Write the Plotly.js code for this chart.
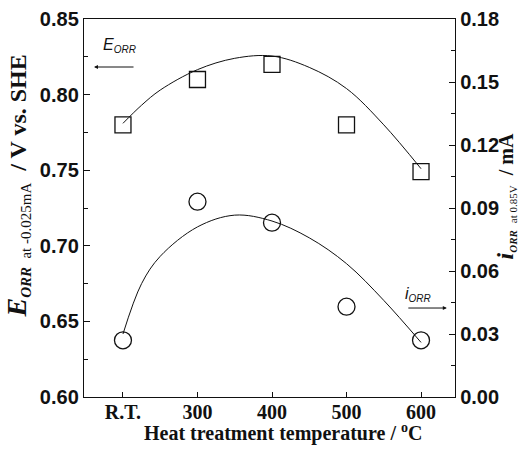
<!DOCTYPE html>
<html>
<head>
<meta charset="utf-8">
<script src="https://cdn.plot.ly/plotly-3.0.1.min.js"></script>
<style>html,body{margin:0;padding:0;background:#fff}#chart{width:520px;height:455px}</style>
</head>
<body>
<div id="chart"></div>
<script>
// ---- data ----
const tempLabels = ['R.T.', '300', '400', '500', '600'];
const tempPos = [200, 300, 400, 500, 600];
const eorr = [0.780, 0.810, 0.820, 0.780, 0.749];          // V vs. SHE (left axis)
const iorr = [0.027, 0.093, 0.083, 0.043, 0.027];          // mA (right axis)
// fitted trend curves as drawn in the reference
const fitPos = [200, 225, 250, 300, 350, 400, 450, 500, 550, 600];
const eorrFit = [0.781, 0.793, 0.803, 0.8165, 0.824, 0.8255, 0.818, 0.804, 0.780, 0.751];
const iorrFit = [0.030, 0.054, 0.067, 0.081, 0.0866, 0.0838, 0.0758, 0.0635, 0.046, 0.026];

const sans = 'Liberation Sans, Arial, sans-serif';
const serif = 'Liberation Serif, Times New Roman, serif';
const ink = '#111';

const traces = [
  {x: fitPos, y: eorrFit, type: 'scatter', mode: 'lines', yaxis: 'y',
   line: {color: ink, width: 1, shape: 'spline', smoothing: 1}, hoverinfo: 'skip'},
  {x: fitPos, y: iorrFit, type: 'scatter', mode: 'lines', yaxis: 'y2',
   line: {color: ink, width: 1, shape: 'spline', smoothing: 1}, hoverinfo: 'skip'},
  {x: tempPos, y: eorr, type: 'scatter', mode: 'markers', yaxis: 'y',
   marker: {symbol: 'square-open', size: 16, color: ink, line: {width: 1.3, color: ink}}},
  {x: tempPos, y: iorr, type: 'scatter', mode: 'markers', yaxis: 'y2',
   marker: {symbol: 'circle-open', size: 17, color: ink, line: {width: 1.3, color: ink}}}
];

const layout = {
  width: 520, height: 455,
  margin: {l: 84, r: 65, t: 19, b: 58, pad: 0},
  paper_bgcolor: '#fff', plot_bgcolor: '#fff',
  showlegend: false,
  xaxis: {
    range: [147.7, 645.6], tickmode: 'array', tickvals: tempPos, ticktext: tempLabels,
    ticks: 'inside', ticklen: 5, tickwidth: 1, tickcolor: ink,
    showline: true, linecolor: ink, linewidth: 1.2, mirror: true,
    showgrid: false, zeroline: false, ticklabelstandoff: -3,
    tickfont: {family: serif, size: 20, color: ink, weight: 'bold'}
  },
  yaxis: {
    range: [0.60, 0.85], dtick: 0.05, tickformat: '.2f',
    ticks: 'inside', ticklen: 6, tickwidth: 1, tickcolor: ink,
    minor: {dtick: 0.025, ticks: 'inside', ticklen: 4, tickcolor: ink, showgrid: false},
    showline: true, linecolor: ink, linewidth: 1.2,
    showgrid: false, zeroline: false,
    tickfont: {family: sans, size: 20, color: ink, weight: 'bold'}
  },
  yaxis2: {
    overlaying: 'y', side: 'right',
    range: [0, 0.18], dtick: 0.03, tickformat: '.2f',
    ticks: 'inside', ticklen: 6, tickwidth: 1, tickcolor: ink,
    minor: {dtick: 0.015, ticks: 'inside', ticklen: 4, tickcolor: ink, showgrid: false},
    showline: true, linecolor: ink, linewidth: 1.2,
    showgrid: false, zeroline: false,
    tickfont: {family: sans, size: 20, color: ink, weight: 'bold'}
  },
  annotations: [
    {xref: 'paper', yref: 'paper', x: 0.5377, y: -0.093, xanchor: 'center', yanchor: 'middle',
     showarrow: false, text: 'Heat treatment temperature / <sup>o</sup>C',
     font: {family: serif, size: 20, color: ink, weight: 'bold'}},
    {xref: 'paper', yref: 'paper', x: -0.178, y: 0.5595, xanchor: 'center', yanchor: 'middle',
     textangle: -90, showarrow: false,
     text: '<span style="font-size:28px"><i>E</i></span><sub><span style="font-size:15px"><i>ORR</i></span>  <span style="font-size:15px;font-weight:normal">at -0.025mA</span></sub>  / V vs. SHE',
     font: {family: serif, size: 24, color: ink, weight: 'bold'}},
    {xref: 'paper', yref: 'paper', x: 1.137, y: 0.53, xanchor: 'center', yanchor: 'middle',
     textangle: -90, showarrow: false,
     text: '<span style="font-size:24px"><i>i</i></span><sub><span style="font-size:11px"><i>ORR</i></span>  <span style="font-size:11px;font-weight:normal">at 0.85V</span></sub>  / mA',
     font: {family: serif, size: 20, color: ink, weight: 'bold'}},
    {xref: 'paper', yref: 'paper', x: 0.027, y: 0.873, ax: 41, ay: 0,
     showarrow: true, arrowhead: 2, arrowsize: 0.8, arrowwidth: 1, arrowcolor: ink, text: ''},
    {xref: 'paper', yref: 'paper', x: 0.097, y: 0.931, xanchor: 'center', yanchor: 'middle',
     showarrow: false, text: '<i>E</i><sub><span style="font-size:10px"><i>ORR</i></span></sub>',
     font: {family: sans, size: 16, color: ink}},
    {xref: 'paper', yref: 'paper', x: 0.978, y: 0.2354, ax: -40, ay: 0,
     showarrow: true, arrowhead: 2, arrowsize: 0.8, arrowwidth: 1, arrowcolor: ink, text: ''},
    {xref: 'paper', yref: 'paper', x: 0.90, y: 0.270, xanchor: 'center', yanchor: 'middle',
     showarrow: false, text: '<i>i</i><sub><span style="font-size:10px"><i>ORR</i></span></sub>',
     font: {family: sans, size: 16, color: ink}}
  ]
};

Plotly.newPlot('chart', traces, layout, {staticPlot: true, displayModeBar: false});
</script>
</body>
</html>
